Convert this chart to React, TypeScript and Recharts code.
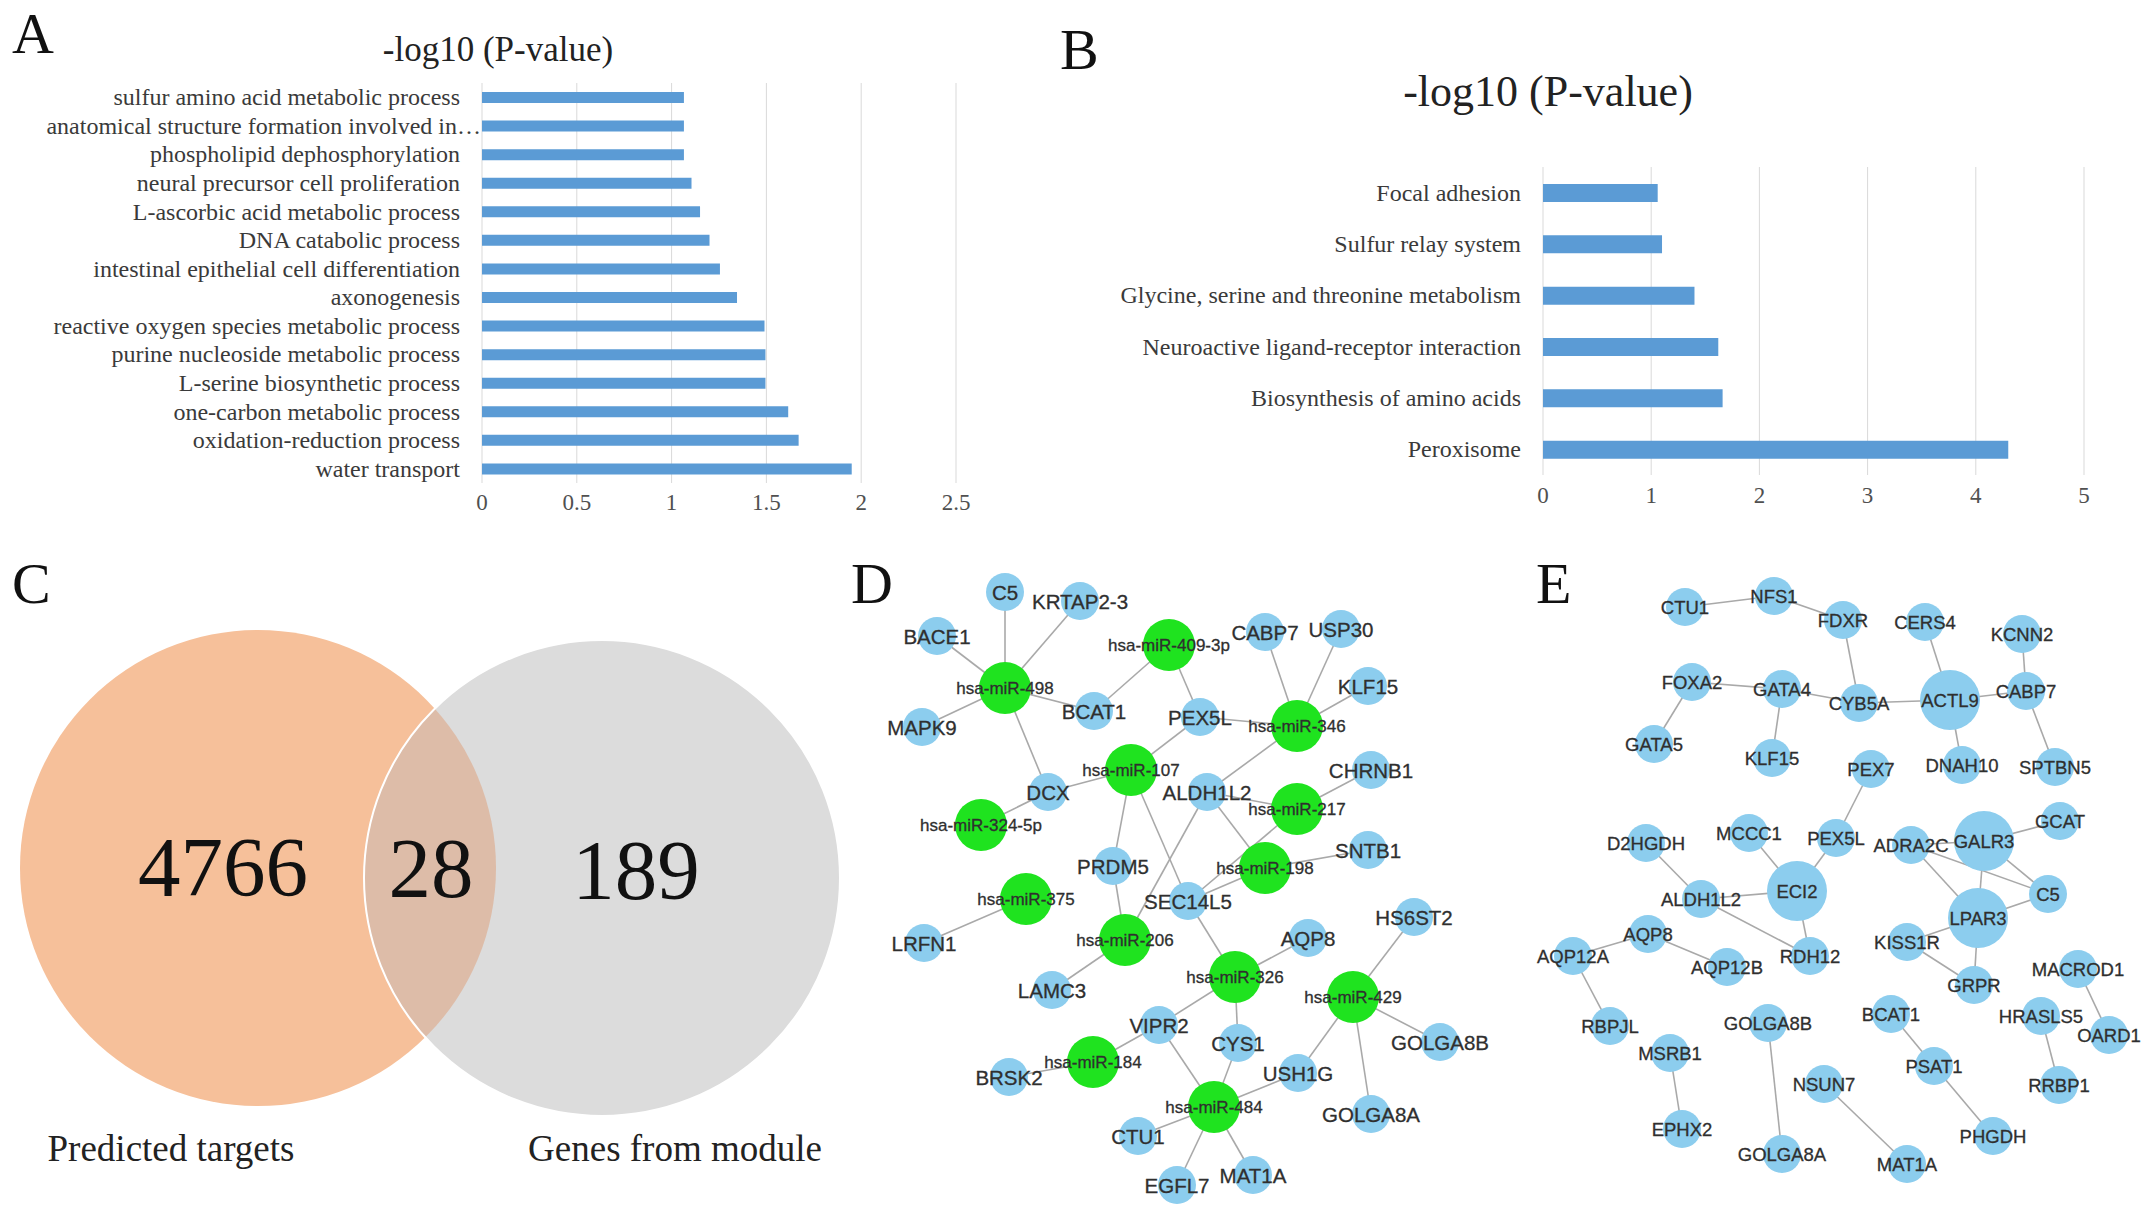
import React from 'react';
import { BarChart, Bar, XAxis, YAxis, CartesianGrid, ScatterChart, Scatter } from 'recharts';

// ---------- Panel A: GO terms ----------
const goTerms = [
  'sulfur amino acid metabolic process',
  'anatomical structure formation involved in…',
  'phospholipid dephosphorylation',
  'neural precursor cell proliferation',
  'L-ascorbic acid metabolic process',
  'DNA catabolic process',
  'intestinal epithelial cell differentiation',
  'axonogenesis',
  'reactive oxygen species metabolic process',
  'purine nucleoside metabolic process',
  'L-serine biosynthetic process',
  'one-carbon metabolic process',
  'oxidation-reduction process',
  'water transport',
];
const goValues = [1.065, 1.065, 1.065, 1.105, 1.15, 1.2, 1.255, 1.345, 1.49, 1.495, 1.495, 1.615, 1.67, 1.95];
const goTicks = [0, 0.5, 1, 1.5, 2, 2.5];

// ---------- Panel B: KEGG pathways ----------
const keggTerms = [
  'Focal adhesion',
  'Sulfur relay system',
  'Glycine, serine and threonine metabolism',
  'Neuroactive ligand-receptor interaction',
  'Biosynthesis of amino acids',
  'Peroxisome',
];
const keggValues = [1.06, 1.1, 1.4, 1.62, 1.66, 4.3];
const keggTicks = [0, 1, 2, 3, 4, 5];

// ---------- Panel C: Venn ----------
const vennSetNames = ['Predicted targets', 'Genes from module'];
const vennCounts = [4766, 28, 189];
const vennCircleX = [258, 602];
const vennCircleY = [868, 878];
const vennRadius = 238;
const vennCountX = [223, 431, 636];
const vennCountY = [896, 897, 899];
const vennLabelX = [171, 675];
const vennLabelY = [1161, 1161];

// ---------- Panel D: miRNA-target network ----------
const dNodes: [string, number, number, string][] = [
  ['C5', 1005, 592, 'gene'],
  ['KRTAP2-3', 1080, 601, 'gene'],
  ['BACE1', 937, 636, 'gene'],
  ['hsa-miR-409-3p', 1169, 645, 'mir'],
  ['CABP7', 1265, 632, 'gene'],
  ['USP30', 1341, 629, 'gene'],
  ['hsa-miR-498', 1005, 688, 'mir'],
  ['BCAT1', 1094, 711, 'gene'],
  ['MAPK9', 922, 727, 'gene'],
  ['PEX5L', 1200, 717, 'gene'],
  ['KLF15', 1368, 686, 'gene'],
  ['hsa-miR-346', 1297, 726, 'mir'],
  ['hsa-miR-107', 1131, 770, 'mir'],
  ['DCX', 1048, 792, 'gene'],
  ['ALDH1L2', 1207, 792, 'gene'],
  ['CHRNB1', 1371, 770, 'gene'],
  ['hsa-miR-217', 1297, 809, 'mir'],
  ['hsa-miR-324-5p', 981, 825, 'mir'],
  ['SNTB1', 1368, 850, 'gene'],
  ['hsa-miR-198', 1265, 868, 'mir'],
  ['PRDM5', 1113, 866, 'gene'],
  ['hsa-miR-375', 1026, 899, 'mir'],
  ['SEC14L5', 1188, 901, 'gene'],
  ['HS6ST2', 1414, 917, 'gene'],
  ['LRFN1', 924, 943, 'gene'],
  ['hsa-miR-206', 1125, 940, 'mir'],
  ['AQP8', 1308, 938, 'gene'],
  ['LAMC3', 1052, 990, 'gene'],
  ['hsa-miR-326', 1235, 977, 'mir'],
  ['hsa-miR-429', 1353, 997, 'mir'],
  ['VIPR2', 1159, 1025, 'gene'],
  ['GOLGA8B', 1440, 1042, 'gene'],
  ['CYS1', 1238, 1043, 'gene'],
  ['hsa-miR-184', 1093, 1062, 'mir'],
  ['BRSK2', 1009, 1077, 'gene'],
  ['USH1G', 1298, 1073, 'gene'],
  ['hsa-miR-484', 1214, 1107, 'mir'],
  ['GOLGA8A', 1371, 1114, 'gene'],
  ['CTU1', 1138, 1136, 'gene'],
  ['MAT1A', 1253, 1175, 'gene'],
  ['EGFL7', 1177, 1185, 'gene'],
];
const dEdges: [string, string][] = [
  ['hsa-miR-498', 'C5'], ['hsa-miR-498', 'KRTAP2-3'], ['hsa-miR-498', 'BACE1'], ['hsa-miR-498', 'MAPK9'],
  ['hsa-miR-498', 'BCAT1'], ['hsa-miR-498', 'DCX'],
  ['hsa-miR-409-3p', 'BCAT1'], ['hsa-miR-409-3p', 'PEX5L'],
  ['hsa-miR-346', 'PEX5L'], ['hsa-miR-346', 'CABP7'], ['hsa-miR-346', 'USP30'], ['hsa-miR-346', 'KLF15'], ['hsa-miR-346', 'ALDH1L2'],
  ['hsa-miR-107', 'PEX5L'], ['hsa-miR-107', 'DCX'], ['hsa-miR-107', 'PRDM5'], ['hsa-miR-107', 'SEC14L5'],
  ['hsa-miR-324-5p', 'DCX'],
  ['hsa-miR-217', 'ALDH1L2'], ['hsa-miR-217', 'CHRNB1'], ['hsa-miR-217', 'SEC14L5'],
  ['hsa-miR-198', 'ALDH1L2'], ['hsa-miR-198', 'SNTB1'], ['hsa-miR-198', 'SEC14L5'],
  ['hsa-miR-206', 'PRDM5'], ['hsa-miR-206', 'ALDH1L2'], ['hsa-miR-206', 'LAMC3'],
  ['hsa-miR-375', 'LRFN1'],
  ['hsa-miR-326', 'SEC14L5'], ['hsa-miR-326', 'AQP8'], ['hsa-miR-326', 'VIPR2'], ['hsa-miR-326', 'CYS1'],
  ['hsa-miR-429', 'HS6ST2'], ['hsa-miR-429', 'GOLGA8B'], ['hsa-miR-429', 'GOLGA8A'], ['hsa-miR-429', 'USH1G'],
  ['hsa-miR-184', 'BRSK2'], ['hsa-miR-184', 'VIPR2'],
  ['hsa-miR-484', 'VIPR2'], ['hsa-miR-484', 'CYS1'], ['hsa-miR-484', 'USH1G'], ['hsa-miR-484', 'CTU1'],
  ['hsa-miR-484', 'EGFL7'], ['hsa-miR-484', 'MAT1A'],
];

// ---------- Panel E: PPI network ----------
const eNodes: [string, number, number, string][] = [
  ['CTU1', 1685, 607, 'gene'],
  ['NFS1', 1774, 596, 'gene'],
  ['FDXR', 1843, 620, 'gene'],
  ['CERS4', 1925, 622, 'gene'],
  ['KCNN2', 2022, 634, 'gene'],
  ['FOXA2', 1692, 682, 'gene'],
  ['GATA4', 1782, 689, 'gene'],
  ['CYB5A', 1859, 703, 'gene'],
  ['ACTL9', 1950, 700, 'hub'],
  ['CABP7', 2026, 691, 'gene'],
  ['GATA5', 1654, 744, 'gene'],
  ['KLF15', 1772, 758, 'gene'],
  ['PEX7', 1871, 769, 'gene'],
  ['DNAH10', 1962, 765, 'gene'],
  ['SPTBN5', 2055, 767, 'gene'],
  ['GCAT', 2060, 821, 'gene'],
  ['MCCC1', 1749, 833, 'gene'],
  ['PEX5L', 1836, 838, 'gene'],
  ['ADRA2C', 1911, 845, 'gene'],
  ['GALR3', 1984, 841, 'hub'],
  ['D2HGDH', 1646, 843, 'gene'],
  ['ECI2', 1797, 891, 'hub'],
  ['C5', 2048, 894, 'gene'],
  ['ALDH1L2', 1701, 899, 'gene'],
  ['LPAR3', 1978, 918, 'hub'],
  ['KISS1R', 1907, 942, 'gene'],
  ['AQP8', 1648, 934, 'gene'],
  ['AQP12A', 1573, 956, 'gene'],
  ['AQP12B', 1727, 967, 'gene'],
  ['RDH12', 1810, 956, 'gene'],
  ['GRPR', 1974, 985, 'gene'],
  ['MACROD1', 2078, 969, 'gene'],
  ['BCAT1', 1891, 1014, 'gene'],
  ['HRASLS5', 2041, 1016, 'gene'],
  ['OARD1', 2109, 1035, 'gene'],
  ['RBPJL', 1610, 1026, 'gene'],
  ['GOLGA8B', 1768, 1023, 'gene'],
  ['MSRB1', 1670, 1053, 'gene'],
  ['PSAT1', 1934, 1066, 'gene'],
  ['NSUN7', 1824, 1084, 'gene'],
  ['RRBP1', 2059, 1085, 'gene'],
  ['EPHX2', 1682, 1129, 'gene'],
  ['PHGDH', 1993, 1136, 'gene'],
  ['GOLGA8A', 1782, 1154, 'gene'],
  ['MAT1A', 1907, 1164, 'gene'],
];
const eEdges: [string, string][] = [
  ['CTU1', 'NFS1'], ['NFS1', 'FDXR'], ['FDXR', 'CYB5A'], ['CERS4', 'ACTL9'],
  ['FOXA2', 'GATA4'], ['FOXA2', 'GATA5'], ['GATA4', 'KLF15'], ['GATA4', 'CYB5A'],
  ['CYB5A', 'ACTL9'], ['ACTL9', 'CABP7'], ['ACTL9', 'DNAH10'], ['KCNN2', 'CABP7'], ['CABP7', 'SPTBN5'],
  ['PEX7', 'PEX5L'], ['PEX5L', 'ECI2'], ['MCCC1', 'ECI2'], ['D2HGDH', 'ALDH1L2'], ['ALDH1L2', 'ECI2'],
  ['ALDH1L2', 'RDH12'], ['ECI2', 'RDH12'],
  ['AQP12A', 'AQP8'], ['AQP8', 'AQP12B'], ['AQP12A', 'RBPJL'], ['MSRB1', 'EPHX2'],
  ['GOLGA8B', 'GOLGA8A'], ['NSUN7', 'MAT1A'], ['BCAT1', 'PSAT1'], ['PSAT1', 'PHGDH'],
  ['HRASLS5', 'RRBP1'], ['MACROD1', 'OARD1'],
  ['GALR3', 'GCAT'], ['ADRA2C', 'GALR3'], ['ADRA2C', 'C5'], ['GALR3', 'C5'], ['GALR3', 'LPAR3'],
  ['ADRA2C', 'LPAR3'], ['LPAR3', 'C5'], ['KISS1R', 'LPAR3'], ['KISS1R', 'GRPR'], ['LPAR3', 'GRPR'],
];

// ---------- styles ----------
const SERIF = '"Liberation Serif", "Times New Roman", serif';
const SANS = '"Liberation Sans", Arial, sans-serif';
const BAR_BLUE = '#5B9BD5';
const GRID = '#D9D9D9';
const LABEL_COLOR = '#3a3a3a';
const TICK_COLOR = '#505050';

const makeCatTick = (fontSize: number) => (props: any) => {
  const { x, y, payload } = props;
  const v = String(payload.value);
  const dx = v.endsWith('…') ? 21 : 0;
  return (
    <text x={x + dx} y={y} textAnchor="end" dominantBaseline="central" fontFamily={SERIF} fontSize={fontSize} fill={LABEL_COLOR}>
      {v}
    </text>
  );
};
const makeNumTick = (fontSize: number) => (props: any) => {
  const { x, y, payload } = props;
  return (
    <text x={x} y={y} textAnchor="middle" dominantBaseline="central" fontFamily={SERIF} fontSize={fontSize} fill={TICK_COLOR}>
      {payload.value}
    </text>
  );
};

function BarPanel(props: {
  data: { name: string; value: number }[];
  left: number; top: number; width: number; height: number;
  marginTop: number; marginRight: number; yWidth: number; xHeight: number;
  ticks: number[]; barSize: number; tickGap: number;
}) {
  const { data, left, top, width, height, marginTop, marginRight, yWidth, xHeight, ticks, barSize, tickGap } = props;
  return (
    <div style={{ position: 'absolute', left, top }}>
      <BarChart width={width} height={height} data={data} layout="vertical"
        margin={{ top: marginTop, right: marginRight, bottom: 0, left: 0 }}>
        <CartesianGrid horizontal={false} vertical stroke={GRID} strokeWidth={1} />
        <XAxis type="number" domain={[ticks[0], ticks[ticks.length - 1]]} ticks={ticks} height={xHeight}
          axisLine={false} tickLine={false} tickSize={0} tickMargin={tickGap} tick={makeNumTick(23)} interval={0} />
        <YAxis type="category" dataKey="name" width={yWidth} axisLine={false} tickLine={false}
          tickSize={0} tickMargin={22} tick={makeCatTick(24)} interval={0} />
        <Bar dataKey="value" fill={BAR_BLUE} barSize={barSize} isAnimationActive={false} />
      </BarChart>
    </div>
  );
}

// ---------- Venn ----------
const VENN_FILLS = ['#F6C09A', '#DCDCDC'];
const VENN_OVERLAP = '#DDBCA8';

function VennPanel() {
  const left = 0, top = 540, w = 860, h = 677;
  const circles = vennSetNames.map((name, i) => ({ name, x: vennCircleX[i], y: vennCircleY[i], i }));
  const lens = [{ x: vennCircleX[1], y: vennCircleY[1], ox: vennCircleX[0], oy: vennCircleY[0] }];
  const counts = vennCounts.map((v, i) => ({ value: v, x: vennCountX[i], y: vennCountY[i] }));
  const labels = vennSetNames.map((name, i) => ({ name, x: vennLabelX[i], y: vennLabelY[i] }));
  const kx = 1; // px per unit (domain width == chart width)
  return (
    <div style={{ position: 'absolute', left, top }}>
      <ScatterChart width={w} height={h} margin={{ top: 0, right: 0, bottom: 0, left: 0 }}>
        <XAxis type="number" dataKey="x" domain={[left, left + w]} hide allowDataOverflow />
        <YAxis type="number" dataKey="y" domain={[top, top + h]} reversed hide allowDataOverflow />
        <Scatter data={circles} isAnimationActive={false}
          shape={(p: any) => <circle cx={p.cx} cy={p.cy} r={vennRadius * kx} fill={VENN_FILLS[p.payload.i]} />} />
        <Scatter data={lens} isAnimationActive={false}
          shape={(p: any) => {
            const ocx = p.cx + (p.payload.ox - p.payload.x) * kx;
            const ocy = p.cy + (p.payload.oy - p.payload.y) * kx;
            return (
              <g>
                <defs>
                  <clipPath id="vennLensClip">
                    <circle cx={ocx} cy={ocy} r={vennRadius * kx} />
                  </clipPath>
                </defs>
                <circle cx={p.cx} cy={p.cy} r={vennRadius * kx} fill={VENN_OVERLAP} clipPath="url(#vennLensClip)" />
                <circle cx={p.cx} cy={p.cy} r={vennRadius * kx} fill="none" stroke="#ffffff" strokeWidth={2} />
              </g>
            );
          }} />
        <Scatter data={counts} isAnimationActive={false}
          shape={(p: any) => (
            <text x={p.cx} y={p.cy} textAnchor="middle" fontFamily={SERIF} fontSize={85} fill="#111">{p.payload.value}</text>
          )} />
        <Scatter data={labels} isAnimationActive={false}
          shape={(p: any) => (
            <text x={p.cx} y={p.cy} textAnchor="middle" fontFamily={SERIF} fontSize={37} fill="#222">{p.payload.name}</text>
          )} />
      </ScatterChart>
    </div>
  );
}

// ---------- Networks ----------
const NODE_STYLE: Record<string, { r: number; fill: string; font: number }> = {
  mir: { r: 26, fill: '#1FE31F', font: 17 },
  gene: { r: 19, fill: '#8CCDEE', font: 20.5 },
  hub: { r: 30, fill: '#8CCDEE', font: 18.5 },
};
const EDGE_COLOR = '#A9A9A9';

function NetworkPanel(props: {
  nodes: [string, number, number, string][];
  edges: [string, string][];
  left: number; top: number; width: number; height: number; geneFont: number;
}) {
  const { nodes, edges, left, top, width, height, geneFont } = props;
  const data = nodes.map(([name, x, y, kind]) => ({ name, x, y, kind }));
  const byName: Record<string, any> = {};
  data.forEach((d) => { byName[d.name] = d; });
  return (
    <div style={{ position: 'absolute', left, top }}>
      <ScatterChart width={width} height={height} margin={{ top: 0, right: 0, bottom: 0, left: 0 }}>
        <XAxis type="number" dataKey="x" domain={[left, left + width]} hide allowDataOverflow />
        <YAxis type="number" dataKey="y" domain={[top, top + height]} reversed hide allowDataOverflow />
        {edges.map(([a, b], i) => (
          <Scatter key={'e' + i} data={[byName[a], byName[b]]} isAnimationActive={false}
            line={{ stroke: EDGE_COLOR, strokeWidth: 1.6 }} shape={() => <g />} />
        ))}
        <Scatter data={data} isAnimationActive={false}
          shape={(p: any) => {
            const st = NODE_STYLE[p.payload.kind];
            return <circle cx={p.cx} cy={p.cy} r={st.r} fill={st.fill} />;
          }} />
        <Scatter data={data} isAnimationActive={false}
          shape={(p: any) => {
            const kind = p.payload.kind;
            const fs = kind === 'mir' ? NODE_STYLE.mir.font : geneFont;
            return (
              <text x={p.cx} y={p.cy} textAnchor="middle" dominantBaseline="central" fontFamily={SANS}
                fontSize={fs} fill="#2f2f2f" stroke="#2f2f2f" strokeWidth={0.3}>{p.payload.name}</text>
            );
          }} />
      </ScatterChart>
    </div>
  );
}

export default function App() {
  const goData = goTerms.map((name, i) => ({ name, value: goValues[i] }));
  const keggData = keggTerms.map((name, i) => ({ name, value: keggValues[i] }));
  return (
    <div style={{ position: 'absolute', left: 0, top: 0, width: 2150, height: 1217, background: '#ffffff', overflow: 'hidden' }}>
      <BarPanel data={goData} left={0} top={0} width={1000} height={520}
        marginTop={83} marginRight={44} yWidth={482} xHeight={37} ticks={goTicks} barSize={11} tickGap={19} />
      <BarPanel data={keggData} left={1040} top={0} width={1110} height={520}
        marginTop={167} marginRight={66} yWidth={503} xHeight={45} ticks={keggTicks} barSize={18} tickGap={20} />
      <VennPanel />
      <NetworkPanel nodes={dNodes} edges={dEdges} left={840} top={540} width={660} height={677} geneFont={20.5} />
      <NetworkPanel nodes={eNodes} edges={eEdges} left={1500} top={540} width={650} height={677} geneFont={18.5} />
      <svg width={2150} height={1217} style={{ position: 'absolute', left: 0, top: 0, pointerEvents: 'none' }}>
        <text x={12} y={53} fontFamily={SERIF} fontSize={58} fill="#111">A</text>
        <text x={1060} y={69} fontFamily={SERIF} fontSize={58} fill="#111">B</text>
        <text x={12} y={603} fontFamily={SERIF} fontSize={58} fill="#111">C</text>
        <text x={851} y={603} fontFamily={SERIF} fontSize={58} fill="#111">D</text>
        <text x={1536} y={603} fontFamily={SERIF} fontSize={58} fill="#111">E</text>
        <text x={498} y={61} textAnchor="middle" fontFamily={SERIF} fontSize={35} fill="#222">-log10 (P-value)</text>
        <text x={1548} y={106} textAnchor="middle" fontFamily={SERIF} fontSize={44} fill="#222">-log10 (P-value)</text>
      </svg>
    </div>
  );
}
